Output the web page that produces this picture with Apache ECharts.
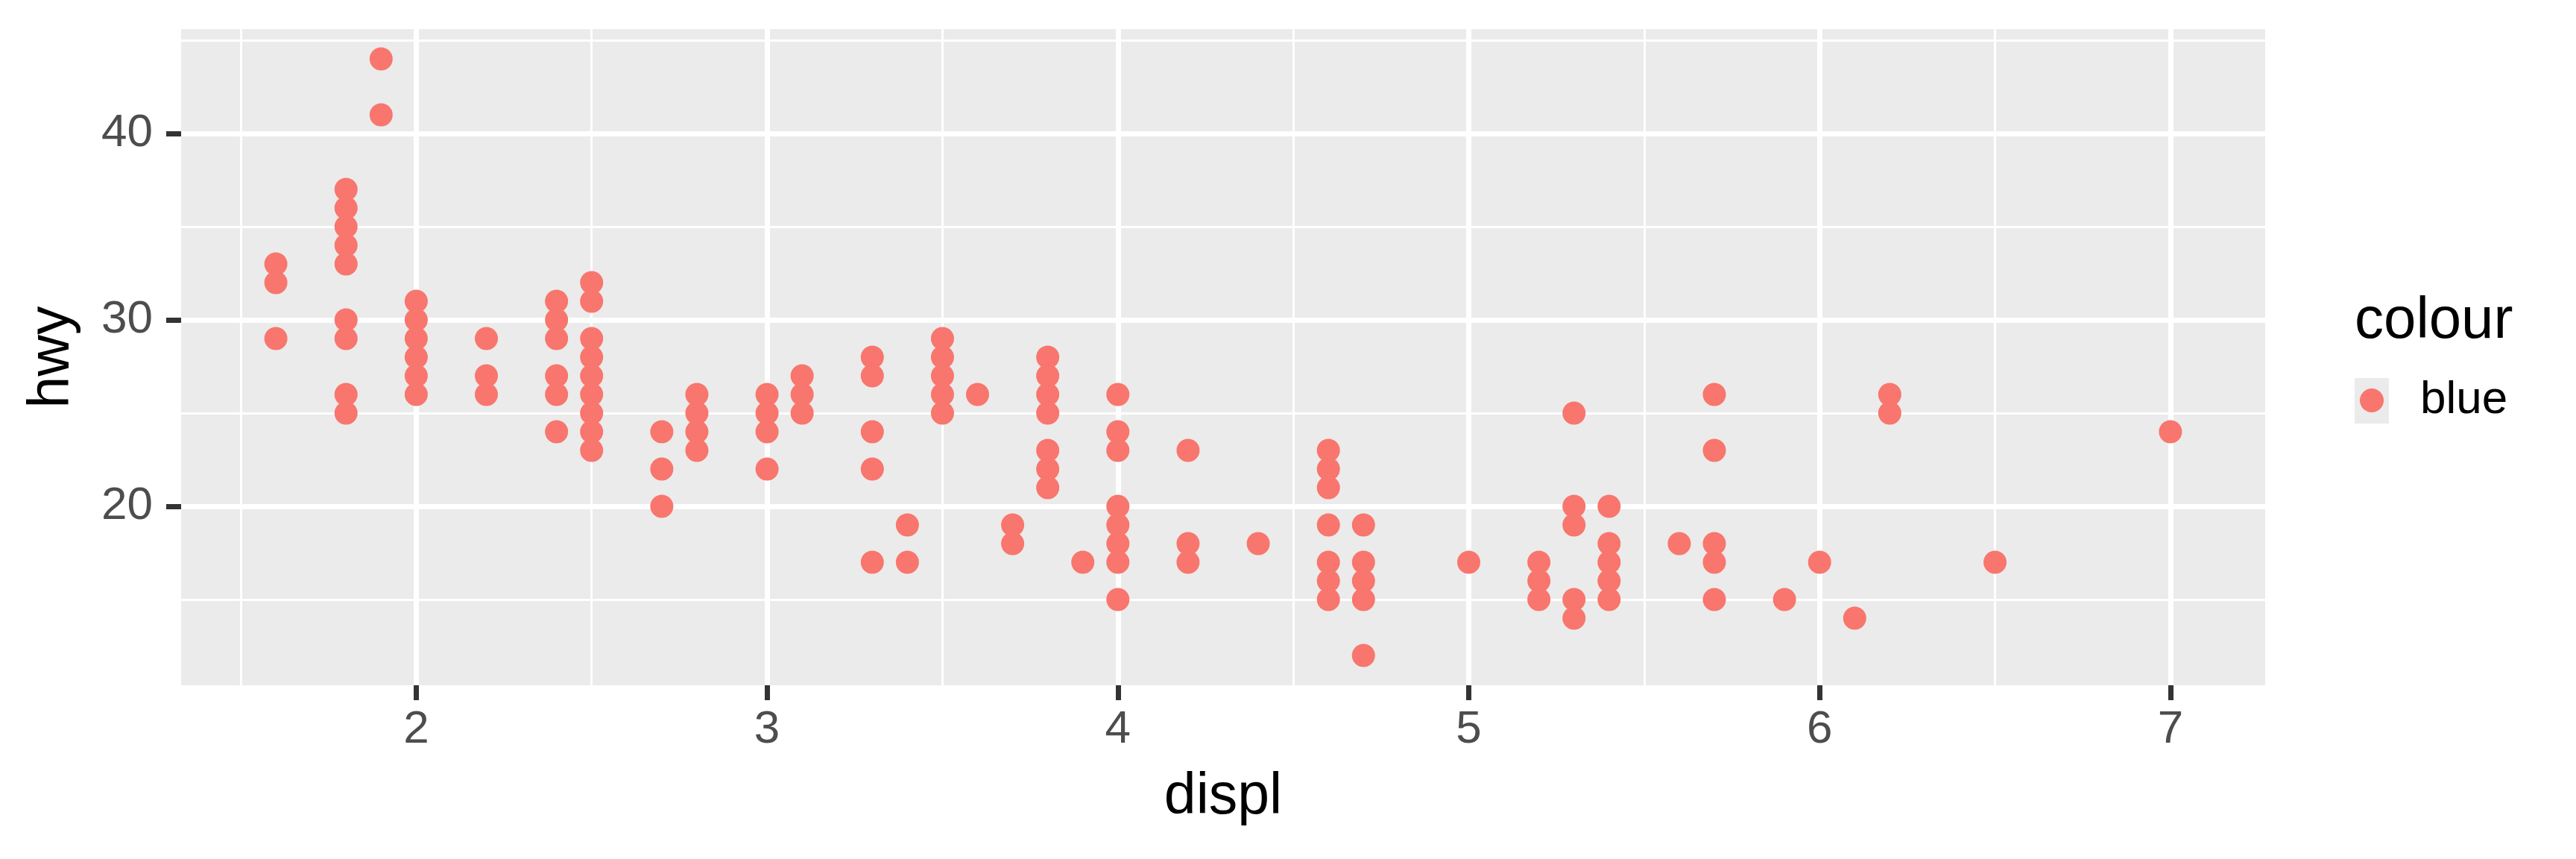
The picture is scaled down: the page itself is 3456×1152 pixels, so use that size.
<!DOCTYPE html>
<html>
<head>
<meta charset="utf-8">
<title>hwy vs displ</title>
<style>
  html, body { margin: 0; padding: 0; background: #fff; }
  #chart { width: 3456px; height: 1152px; }
</style>
<script src="https://cdn.jsdelivr.net/npm/echarts@6/dist/echarts.min.js"></script>
</head>
<body>
<div id="chart"></div>
<script>
// engine displacement and the highway mpg values seen at each displacement
const displ = [1.6, 1.8, 1.9, 2.0, 2.2, 2.4, 2.5, 2.7, 2.8, 3.0, 3.1, 3.3, 3.4, 3.5, 3.6, 3.7,
  3.8, 3.9, 4.0, 4.2, 4.4, 4.6, 4.7, 5.0, 5.2, 5.3, 5.4, 5.6, 5.7, 5.9, 6.0, 6.1, 6.2, 6.5, 7.0];
const hwy = [
  [33, 32, 29],
  [37, 36, 35, 34, 33, 30, 29, 26, 25],
  [44, 41],
  [31, 30, 29, 28, 27, 26],
  [29, 27, 26],
  [31, 30, 29, 27, 26, 24],
  [32, 31, 29, 28, 27, 26, 25, 24, 23],
  [24, 22, 20],
  [26, 25, 24, 23],
  [26, 25, 24, 22],
  [27, 26, 25],
  [28, 27, 24, 22, 17],
  [19, 17],
  [29, 28, 27, 26, 25],
  [26],
  [19, 18],
  [28, 27, 26, 25, 23, 22, 21],
  [17],
  [26, 24, 23, 20, 19, 18, 17, 15],
  [23, 18, 17],
  [18],
  [23, 22, 21, 19, 17, 16, 15],
  [19, 17, 16, 15, 12],
  [17],
  [17, 16, 15],
  [25, 20, 19, 15, 14],
  [20, 18, 17, 16, 15],
  [18],
  [26, 23, 18, 17, 15],
  [15],
  [17],
  [14],
  [26, 25],
  [17],
  [24],
];

const xTicks = [2, 3, 4, 5, 6, 7];
const xMinor = [1.5, 2.5, 3.5, 4.5, 5.5, 6.5];
const yTicks = [20, 30, 40];
const yMinor = [15, 25, 35, 45];

const points = [];
displ.forEach((d, idx) => {
  hwy[idx].forEach((h) => points.push([d, h]));
});

const font = 'Liberation Sans, Arial, sans-serif';

// ggplot-style white grid, drawn as lines at data values
const gridLines = [
  ...xMinor.map((v) => ({ xAxis: v, lineStyle: { width: 3 } })),
  ...yMinor.map((v) => ({ yAxis: v, lineStyle: { width: 3 } })),
  ...xTicks.map((v) => ({ xAxis: v, lineStyle: { width: 7 } })),
  ...yTicks.map((v) => ({ yAxis: v, lineStyle: { width: 7 } })),
];

const chart = echarts.init(document.getElementById('chart'), null, { renderer: 'canvas' });

const option = {
  animation: false,
  backgroundColor: '#ffffff',
  textStyle: { fontFamily: font },
  title: {
    text: 'colour',
    left: 3159,
    top: 392,
    padding: 0,
    textStyle: { fontSize: 78, fontWeight: 'normal', color: '#000', fontFamily: font, lineHeight: 78 },
  },
  legend: {
    data: ['blue'],
    left: 3166,
    top: 506,
    padding: 0,
    orient: 'vertical',
    selectedMode: false,
    icon: 'circle',
    itemWidth: 32,
    itemHeight: 32,
    textStyle: {
      fontSize: 62, color: '#000', fontFamily: font, lineHeight: 62, padding: [0, 0, 0, 44],
    },
  },
  graphic: [{
    type: 'rect',
    left: 3159,
    top: 507,
    z: -1,
    shape: { width: 46, height: 61 },
    style: { fill: '#EBEBEB' },
    silent: true,
  }],
  grid: {
    left: 243,
    right: 417,
    top: 39,
    bottom: 233,
    show: true,
    backgroundColor: '#EBEBEB',
    borderWidth: 0,
    containLabel: false,
    outerBoundsMode: 'none',
  },
  xAxis: {
    type: 'value',
    min: 1.33,
    max: 7.27,
    name: 'displ',
    nameLocation: 'middle',
    nameGap: 112,
    nameTextStyle: { fontSize: 77, color: '#000', fontFamily: font, lineHeight: 77 },
    axisLine: { show: false },
    axisTick: {
      show: true, customValues: xTicks, length: 20, lineStyle: { color: '#333333', width: 7 },
    },
    axisLabel: {
      customValues: xTicks, margin: 29, fontSize: 62, color: '#4D4D4D', fontFamily: font, lineHeight: 62,
    },
    splitLine: { show: false },
  },
  yAxis: {
    type: 'value',
    min: 10.4,
    max: 45.6,
    name: 'hwy',
    nameLocation: 'middle',
    nameGap: 134,
    nameTextStyle: { fontSize: 77, color: '#000', fontFamily: font, lineHeight: 77 },
    axisLine: { show: false },
    axisTick: {
      show: true, customValues: yTicks, length: 20, lineStyle: { color: '#333333', width: 7 },
    },
    axisLabel: {
      customValues: yTicks, margin: 38, fontSize: 62, color: '#4D4D4D', fontFamily: font, lineHeight: 62,
    },
    splitLine: { show: false },
  },
  series: [
    {
      name: 'grid',
      type: 'line',
      data: [],
      silent: true,
      z: 1,
      markLine: {
        silent: true,
        z: 1,
        animation: false,
        symbol: ['none', 'none'],
        label: { show: false },
        emphasis: { disabled: true },
        lineStyle: { color: '#ffffff', type: 'solid' },
        data: gridLines,
      },
    },
    {
      name: 'blue',
      type: 'scatter',
      data: points,
      z: 10,
      symbol: 'circle',
      symbolSize: 31,
      itemStyle: { color: '#F8766D', opacity: 1 },
      emphasis: { disabled: true },
    },
  ],
};

chart.setOption(option);
</script>
</body>
</html>
